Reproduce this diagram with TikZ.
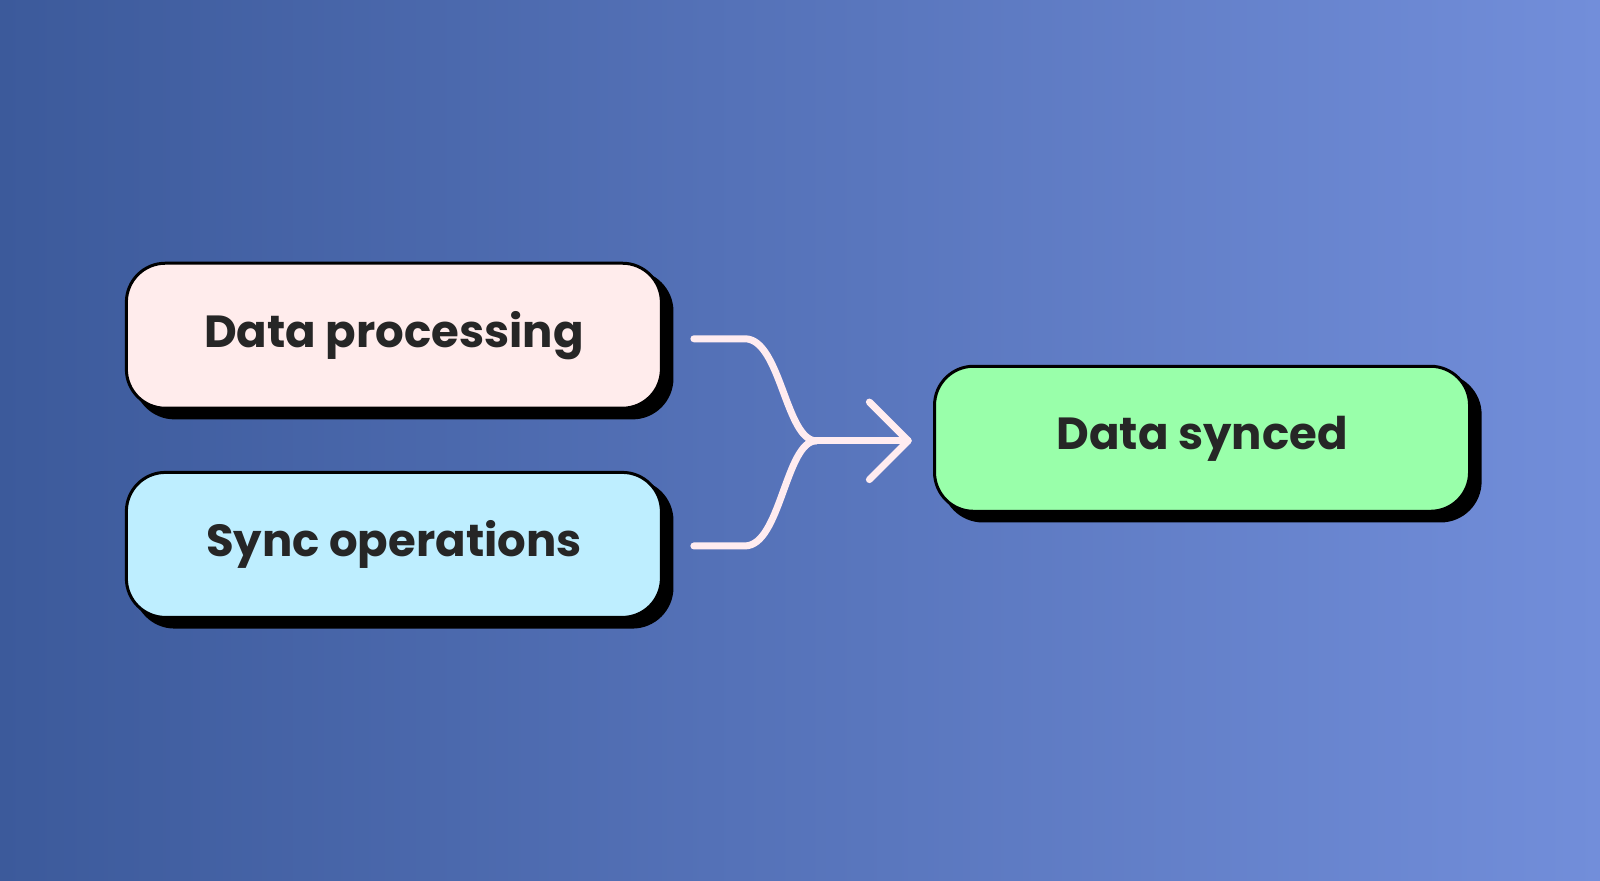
\documentclass[tikz,border=0pt]{standalone}
\usepackage{fontspec}
\setmainfont{Poppins}
\begin{document}
\begin{tikzpicture}[x=1.0204pt,y=-1.0204pt,
  box/.style={draw=black,line width=3pt,rounded corners=39pt,minimum width=535pt,minimum height=145pt,
    font=\fontsize{45}{50}\selectfont\bfseries,text=black!85},
  shadowbox/.style={fill=black,rounded corners=41pt},
  conn/.style={draw=pinkline,line width=7pt,line cap=round,line join=round}]
\definecolor{bgL}{RGB}{60,90,155}
\definecolor{bgR}{RGB}{114,142,218}
\definecolor{pinkline}{RGB}{255,236,240}
\definecolor{fpink}{RGB}{255,236,236}
\definecolor{fblue}{RGB}{190,238,255}
\definecolor{fgreen}{RGB}{153,255,170}
\useasboundingbox (0,0) rectangle (1568,862.4);
\shade[left color=bgL,right color=bgR] (0,0) rectangle (1568,862.4);
% shadows
\fill[shadowbox] (131,265) rectangle (660,411);
\fill[shadowbox] (131,470) rectangle (660,616);
\fill[shadowbox] (923,366) rectangle (1452,512);
\node[box,fill=fpink] (dp) at (386,329) {Data processing};
\node[box,fill=fblue] (so) at (386,534) {Sync operations};
\node[box,fill=fgreen] (ds) at (1178,430) {Data synced};
\coordinate (a1) at (680,332);
\coordinate (a2) at (680,535);
\coordinate (m) at (800,432);
\coordinate (tip) at (890,432);
\draw[conn] (a1) -- (730,332) .. controls (765,332) and (770,432) .. (m);
\draw[conn] (a2) -- (730,535) .. controls (765,535) and (770,432) .. (m);
\draw[conn] (m) -- (tip);
\draw[conn] (852,394) -- (tip) -- (852,470);
\end{tikzpicture}
\end{document}
